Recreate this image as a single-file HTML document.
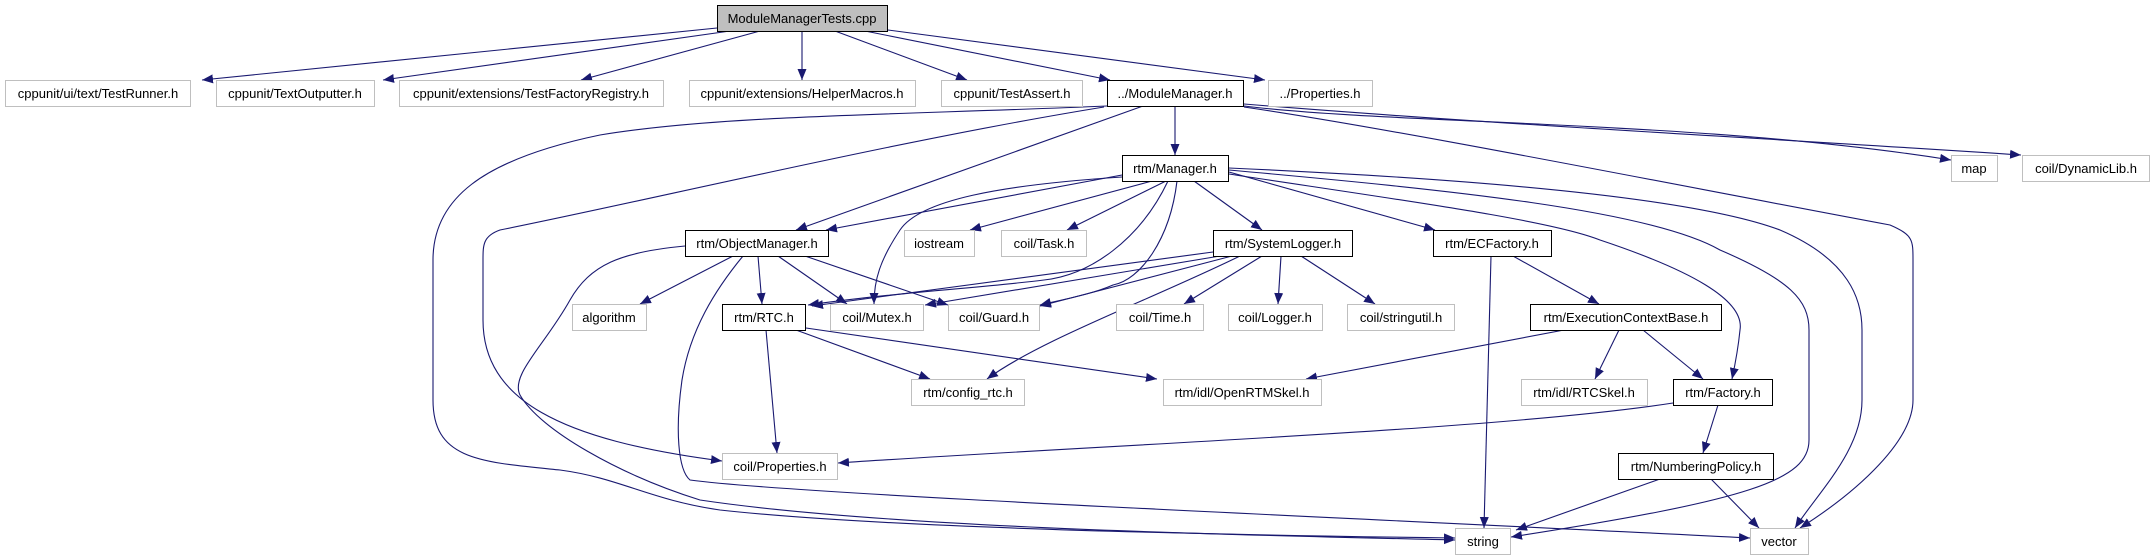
<!DOCTYPE html>
<html><head><meta charset="utf-8"><style>
html,body{margin:0;padding:0;background:#fff;}
svg{display:block;}
text{font-family:"Liberation Sans",sans-serif;font-size:13px;fill:#000;}
</style></head><body>
<svg width="2151" height="560" viewBox="0 0 2151 560" xmlns="http://www.w3.org/2000/svg">
<defs>
<marker id="a" markerUnits="userSpaceOnUse" markerWidth="12" markerHeight="10" refX="11" refY="5" orient="auto">
<polygon points="0,0.5 11,5 0,9.5" fill="#191970"/>
</marker>
</defs>
<g fill="none" stroke="#191970" stroke-width="1.1" marker-end="url(#a)">
<!-- root -->
<path d="M717,28 L202,80"/>
<path d="M730,31 L383,80"/>
<path d="M760,31 L581,80"/>
<path d="M802,31 L802,80"/>
<path d="M835,31 L967,80"/>
<path d="M865,31 L1110,80"/>
<path d="M888,30 L1265,80"/>
<!-- ModuleManager -->
<path d="M1175,106 L1175,155"/>
<path d="M1143,106 L796,230"/>
<path d="M1107,106 C900,115 720,115 600,135 C480,160 433,200 433,260 L433,400 C433,460 480,462 560,470 C620,478 650,500 720,510 C900,530 1300,536 1455,538"/>
<path d="M1104,107 C900,140 650,200 500,230 C483,236 483,245 483,260 L483,320 C483,400 560,440 722,461"/>
<path d="M1244,106 C1400,125 1700,120 1951,160"/>
<path d="M1244,104 C1500,125 1800,140 2021,155"/>
<path d="M1244,107 C1400,130 1650,180 1890,225 C1913,235 1913,240 1913,260 L1913,400 C1913,440 1860,490 1800,528"/>
<!-- Manager -->
<path d="M1122,175 L826,230"/>
<path d="M1152,181 L970,230"/>
<path d="M1166,181 L1067,230"/>
<path d="M1194,181 L1262,230"/>
<path d="M1122,177 C1000,185 920,200 900,230 C880,260 874,280 874,304"/>
<path d="M1168,181 C1140,240 1090,275 1044,280 C980,288 900,292 808,305"/>
<path d="M1177,181 C1170,240 1140,280 1113,285 C1090,295 1060,300 1040,305"/>
<path d="M1229,172 L1435,230"/>
<path d="M1229,174 C1400,200 1550,220 1600,240 C1690,270 1745,300 1740,330 C1738,350 1735,365 1732,379"/>
<path d="M1229,170 C1450,190 1650,210 1720,250 C1790,280 1809,300 1809,330 L1809,440 C1809,480 1750,500 1511,537"/>
<path d="M1229,168 C1500,180 1700,200 1780,230 C1850,260 1862,300 1862,330 L1862,400 C1862,450 1820,490 1795,528"/>
<!-- ObjectManager -->
<path d="M733,256 L640,304"/>
<path d="M758,256 L762,304"/>
<path d="M778,256 L847,304"/>
<path d="M805,256 L948,305"/>
<path d="M685,246 C620,252 590,265 570,300 C545,345 510,375 520,395 C540,430 620,475 700,500 C900,530 1300,536 1455,540"/>
<path d="M743,256 C715,290 690,330 682,380 C675,430 678,470 690,480 C800,495 1400,520 1750,538"/>
<!-- SystemLogger -->
<path d="M1213,252 L812,306"/>
<path d="M1220,256 L925,305"/>
<path d="M1232,256 L1040,306"/>
<path d="M1240,256 C1150,300 1040,340 987,379"/>
<path d="M1262,256 L1184,304"/>
<path d="M1281,256 L1278,304"/>
<path d="M1301,256 L1375,304"/>
<!-- RTC -->
<path d="M766,330 L777,453"/>
<path d="M796,330 L930,379"/>
<path d="M806,328 L1157,379"/>
<!-- ECFactory -->
<path d="M1513,256 L1599,304"/>
<path d="M1491,256 L1484,528"/>
<!-- ECB -->
<path d="M1564,330 L1306,379"/>
<path d="M1619,330 L1595,379"/>
<path d="M1643,330 L1703,379"/>
<!-- Factory -->
<path d="M1673,403 C1500,430 1100,445 838,463"/>
<path d="M1718,405 L1703,453"/>
<!-- NumberingPolicy -->
<path d="M1660,479 L1516,530"/>
<path d="M1711,479 L1759,528"/>
</g>
<g stroke-width="1">
<rect x="717.5" y="5.5" width="170" height="26" fill="#bfbfbf" stroke="#000"/>
<text x="802" y="23" text-anchor="middle">ModuleManagerTests.cpp</text>

<g fill="#fff" stroke="#bfbfbf">
<rect x="5.5" y="80.5" width="185" height="26"/>
<rect x="216.5" y="80.5" width="158" height="26"/>
<rect x="399.5" y="80.5" width="264" height="26"/>
<rect x="689.5" y="80.5" width="226" height="26"/>
<rect x="941.5" y="80.5" width="141" height="26"/>
<rect x="1268.5" y="80.5" width="104" height="26"/>
<rect x="1951.5" y="155.5" width="46" height="26"/>
<rect x="2022.5" y="155.5" width="127" height="26"/>
<rect x="904.5" y="230.5" width="70" height="26"/>
<rect x="1001.5" y="230.5" width="85" height="26"/>
<rect x="572.5" y="304.5" width="74" height="26"/>
<rect x="830.5" y="304.5" width="93" height="26"/>
<rect x="948.5" y="304.5" width="91" height="26"/>
<rect x="1116.5" y="304.5" width="87" height="26"/>
<rect x="1228.5" y="304.5" width="94" height="26"/>
<rect x="1347.5" y="304.5" width="107" height="26"/>
<rect x="911.5" y="379.5" width="113" height="26"/>
<rect x="1163.5" y="379.5" width="158" height="26"/>
<rect x="1521.5" y="379.5" width="126" height="26"/>
<rect x="722.5" y="453.5" width="115" height="26"/>
<rect x="1455.5" y="528.5" width="55" height="26"/>
<rect x="1750.5" y="528.5" width="58" height="26"/>
</g>
<g fill="#fff" stroke="#000">
<rect x="1107.5" y="80.5" width="136" height="26"/>
<rect x="1122.5" y="155.5" width="106" height="26"/>
<rect x="685.5" y="230.5" width="143" height="26"/>
<rect x="1213.5" y="230.5" width="139" height="26"/>
<rect x="1433.5" y="230.5" width="118" height="26"/>
<rect x="722.5" y="304.5" width="83" height="26"/>
<rect x="1530.5" y="304.5" width="191" height="26"/>
<rect x="1673.5" y="379.5" width="99" height="26"/>
<rect x="1618.5" y="453.5" width="155" height="26"/>
</g>
</g>
<g text-anchor="middle">
<text x="98" y="98">cppunit/ui/text/TestRunner.h</text>
<text x="295" y="98">cppunit/TextOutputter.h</text>
<text x="531" y="98">cppunit/extensions/TestFactoryRegistry.h</text>
<text x="802" y="98">cppunit/extensions/HelperMacros.h</text>
<text x="1012" y="98">cppunit/TestAssert.h</text>
<text x="1175" y="98">../ModuleManager.h</text>
<text x="1320" y="98">../Properties.h</text>
<text x="1175" y="173">rtm/Manager.h</text>
<text x="1974" y="173">map</text>
<text x="2086" y="173">coil/DynamicLib.h</text>
<text x="757" y="248">rtm/ObjectManager.h</text>
<text x="939" y="248">iostream</text>
<text x="1044" y="248">coil/Task.h</text>
<text x="1283" y="248">rtm/SystemLogger.h</text>
<text x="1492" y="248">rtm/ECFactory.h</text>
<text x="609" y="322">algorithm</text>
<text x="764" y="322">rtm/RTC.h</text>
<text x="877" y="322">coil/Mutex.h</text>
<text x="994" y="322">coil/Guard.h</text>
<text x="1160" y="322">coil/Time.h</text>
<text x="1275" y="322">coil/Logger.h</text>
<text x="1401" y="322">coil/stringutil.h</text>
<text x="1626" y="322">rtm/ExecutionContextBase.h</text>
<text x="968" y="397">rtm/config_rtc.h</text>
<text x="1242" y="397">rtm/idl/OpenRTMSkel.h</text>
<text x="1584" y="397">rtm/idl/RTCSkel.h</text>
<text x="1723" y="397">rtm/Factory.h</text>
<text x="780" y="471">coil/Properties.h</text>
<text x="1696" y="471">rtm/NumberingPolicy.h</text>
<text x="1483" y="546">string</text>
<text x="1779" y="546">vector</text>
</g>
</svg>
</body></html>
